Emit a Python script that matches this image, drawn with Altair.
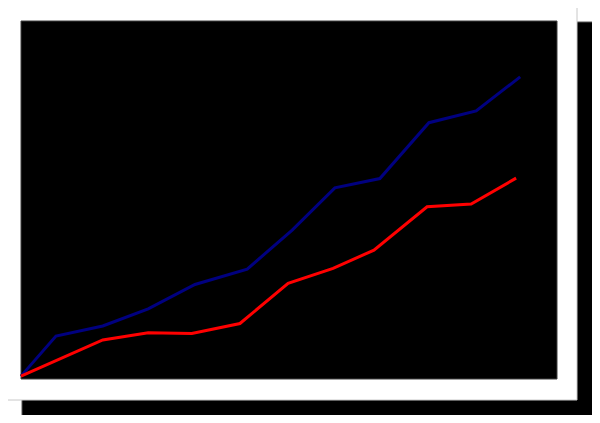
import altair as alt
import pandas as pd

# Series values (x in arbitrary units, y in arbitrary units)
blue_x = [0, 7.7, 18.0, 28.0, 38.3, 49.8, 59.7, 69.1, 79.0, 89.8, 100.2, 109.9]
blue_y = [0.8, 12.0, 14.8, 19.6, 26.4, 30.7, 41.6, 53.4, 56.0, 71.6, 74.9, 84.4]
red_x = [0, 18.0, 28.0, 37.6, 48.2, 58.8, 68.7, 77.7, 89.4, 99.1, 109.0]
red_y = [0.8, 10.9, 12.9, 12.7, 15.5, 26.7, 30.9, 36.0, 48.1, 48.9, 56.1]
series_names = ["A", "B"]
series_colors = ["#000080", "#ff0000"]

rows = []
for x, y in zip(blue_x, blue_y):
    rows.append({"x": x, "y": y, "series": series_names[0]})
for x, y in zip(red_x, red_y):
    rows.append({"x": x, "y": y, "series": series_names[1]})
df = pd.DataFrame(rows)

W, H = 536, 358
one = alt.Data(values=[{}])

shadow = alt.Chart(one).mark_rect(color="black", stroke="#555555", strokeWidth=1).encode(
    x=alt.value(1), x2=alt.value(578), y=alt.value(1), y2=alt.value(401)
)
frame = alt.Chart(one).mark_rect(color="white", stroke="#c8c8c8", strokeWidth=1).encode(
    x=alt.value(-21), x2=alt.value(556), y=alt.value(-21), y2=alt.value(379)
)
plotbg = alt.Chart(one).mark_rect(color="black", stroke="#404040", strokeWidth=1).encode(
    x=alt.value(0), x2=alt.value(W), y=alt.value(0), y2=alt.value(H)
)

lines = alt.Chart(df).mark_line(strokeWidth=3, strokeJoin="miter").encode(
    x=alt.X("x:Q", scale=alt.Scale(domain=[0, 118], nice=False, zero=False), axis=None),
    y=alt.Y("y:Q", scale=alt.Scale(domain=[0, 100], nice=False), axis=None),
    color=alt.Color("series:N", scale=alt.Scale(domain=series_names, range=series_colors), legend=None),
    detail="series:N",
)

chart = alt.layer(shadow, frame, plotbg, lines).properties(
    width=W,
    height=H,
    autosize=alt.AutoSizeParams(type="none"),
    padding={"left": 13, "top": 13, "right": 35, "bottom": 36},
    background="white",
).configure_view(stroke=None)

chart.save("out.html", embed_options={"renderer": "svg", "actions": False})
